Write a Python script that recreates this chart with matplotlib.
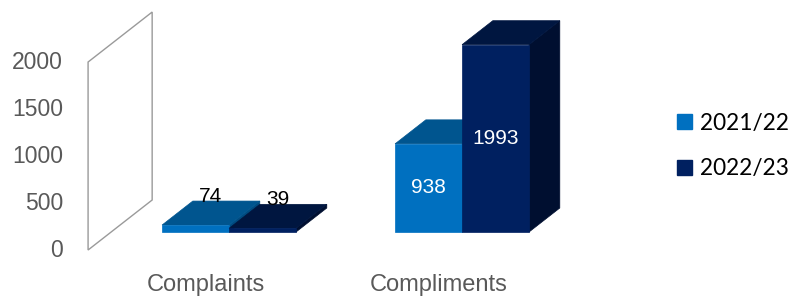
import numpy as np
from matplotlib import pyplot as plt
from matplotlib.patches import Polygon, Patch

# chart data
categories = ['Complaints', 'Compliments']
series = ['2021/22', '2022/23']
values_2122 = [74, 938]
values_2223 = [39, 1993]
y_ticks = [0, 500, 1000, 1500, 2000]

front_colors = ['#0070C0', '#002060']
top_colors = ['#00558F', '#001640']
side_colors = ['#004B80', '#000F30']

# fake 3d: one unit of depth shifts a point by (DX, DV) in data units
DX = 0.275
DV = 532
Z0 = 0.36   # depth where bars start
BD = 0.48   # bar depth
W = 0.2875  # bar width


def proj(x, v, z):
    return (x + z * DX, v + z * DV)


def draw_bar(ax, x0, x1, v, k):
    front = [proj(x0, 0, Z0), proj(x1, 0, Z0), proj(x1, v, Z0), proj(x0, v, Z0)]
    top = [proj(x0, v, Z0), proj(x1, v, Z0), proj(x1, v, Z0 + BD), proj(x0, v, Z0 + BD)]
    side = [proj(x1, 0, Z0), proj(x1, 0, Z0 + BD), proj(x1, v, Z0 + BD), proj(x1, v, Z0)]
    for pts, col in [(side, side_colors[k]), (top, top_colors[k]), (front, front_colors[k])]:
        ax.add_patch(Polygon(pts, closed=True, facecolor=col, edgecolor=col, lw=0.5))


def main():
    fig = plt.figure(figsize=(7.92, 2.97), dpi=100)
    ax = fig.add_axes([0, 0, 1, 1])
    ax.set_xlim(-0.884, 2.515)
    ax.set_ylim(-500, 2660)
    ax.axis('off')

    # back wall outline
    xw = -0.506
    wall = [proj(xw, 0, 0), proj(xw, 2000, 0), proj(xw, 2000, 1), proj(xw, 0, 1)]
    ax.add_patch(Polygon(wall, closed=True, fill=False, edgecolor='#9a9a9a', lw=1))

    for t in y_ticks:
        ax.text(-0.614, t, str(t), ha='right', va='center', fontsize=16.5,
                color='#595959', family='Liberation Sans')

    all_vals = [values_2122, values_2223]
    for i, cat in enumerate(categories):
        for k, vals in enumerate(all_vals):
            v = vals[i]
            x0 = i - W + k * W
            x1 = x0 + W
            draw_bar(ax, x0, x1, v, k)
            xc = (x0 + x1) / 2
            if v > 300:
                ax.text(*proj(xc, v / 2, Z0), str(v), ha='center', va='center',
                        fontsize=15, color='white', family='Liberation Sans')
            else:
                ax.annotate(str(v), proj(xc, v, Z0 + BD / 2), xytext=(0, 5),
                            textcoords='offset points', ha='center', va='bottom',
                            fontsize=15, color='black', family='Liberation Sans')
        ax.text(i, -372, cat, ha='center', va='center', fontsize=17,
                color='#595959', family='Liberation Sans')

    handles = [Patch(facecolor=c, edgecolor=c) for c in front_colors]
    ax.legend(handles, series, loc='center left', bbox_to_anchor=(677 / 792, 1 - 146 / 297),
              frameon=False, borderpad=0, borderaxespad=0, handlelength=0.65,
              handleheight=0.65, handletextpad=0.35, labelspacing=1.1,
              prop={'family': 'Lato', 'size': 16.3})

    fig.savefig('out.png', dpi=100)


if __name__ == "__main__":
    main()
